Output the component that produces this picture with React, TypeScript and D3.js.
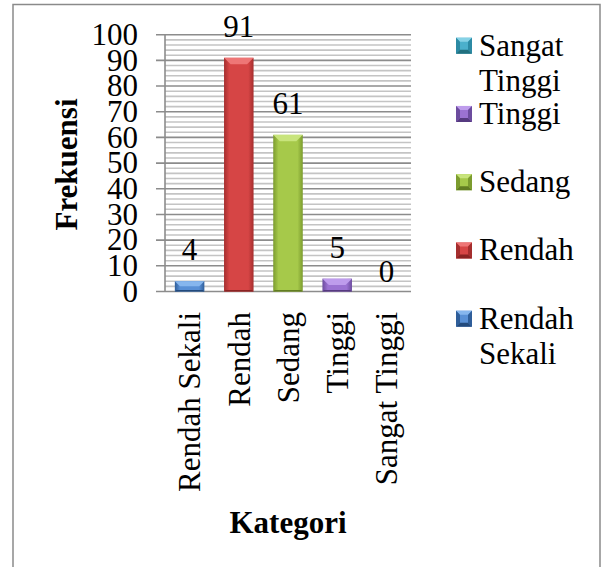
import React from "react";
import * as d3 from "d3";

const categories = ["Rendah Sekali", "Rendah", "Sedang", "Tinggi", "Sangat Tinggi"];
const values = [4, 91, 61, 5, 0];
const yTicks = [0, 10, 20, 30, 40, 50, 60, 70, 80, 90, 100];
const legendOrder = ["Sangat Tinggi", "Tinggi", "Sedang", "Rendah", "Rendah Sekali"];
const legendLines: Record<string, string[]> = {
  "Sangat Tinggi": ["Sangat", "Tinggi"],
  Tinggi: ["Tinggi"],
  Sedang: ["Sedang"],
  Rendah: ["Rendah"],
  "Rendah Sekali": ["Rendah", "Sekali"],
};
const palette: Record<string, { mid: string; edge: string; top: string; dark: string }> = {
  "Rendah Sekali": { mid: "#5990D6", edge: "#2F5E9A", top: "#86B6EE", dark: "#234A7C" },
  Rendah: { mid: "#D64545", edge: "#A52E2E", top: "#EE7676", dark: "#8A2323" },
  Sedang: { mid: "#A6C94A", edge: "#7C9C2F", top: "#C8E47C", dark: "#627D22" },
  Tinggi: { mid: "#9B72D2", edge: "#6C4C9E", top: "#BE9CEC", dark: "#563A80" },
  "Sangat Tinggi": { mid: "#4BB0CC", edge: "#2C8AA4", top: "#86D2E6", dark: "#21707F" },
};

const FONT = "Liberation Serif, DejaVu Serif, serif";
const FS = 31;

export default function App() {
  const x = d3.scaleBand<string>().domain(categories).range([165, 411]).paddingInner(0.4).paddingOuter(0.2);
  const y = d3.scaleLinear().domain([0, 100]).range([291.5, 34.7]);
  const minor = d3.range(0, 101, 2).filter((v) => v % 10 !== 0);
  const bw = x.bandwidth();
  const legendY = d3.scaleLinear().domain([0, 4]).range([45.7, 318.7]);
  const ts: React.CSSProperties = { fontFamily: FONT, fontWeight: 400 };
  const tb: React.CSSProperties = { fontFamily: FONT, fontWeight: 700 };

  return (
    <svg width={603} height={567} style={{ position: "absolute", left: 0, top: 0 }}>
      <defs>
        {categories.map((c, i) => (
          <linearGradient key={c} id={`g${i}`} x1="0" x2="1" y1="0" y2="0">
            <stop offset="0" stopColor={palette[c].edge} />
            <stop offset="0.18" stopColor={palette[c].mid} />
            <stop offset="0.82" stopColor={palette[c].mid} />
            <stop offset="1" stopColor={palette[c].edge} />
          </linearGradient>
        ))}
      </defs>
      <rect x={0} y={0} width={603} height={567} fill="#fff" />
      <rect x={13} y={4.5} width={587} height={600} fill="#fff" stroke="#8a8a8a" strokeWidth={1.5} />

      {minor.map((v) => (
        <line key={`m${v}`} x1={165} x2={411} y1={y(v)} y2={y(v)} stroke="#c4c4c4" strokeWidth={1.6} />
      ))}
      {yTicks.map((v) => (
        <line key={`M${v}`} x1={156} x2={411} y1={y(v)} y2={y(v)} stroke="#8c8c8c" strokeWidth={1.6} />
      ))}
      <line x1={165} x2={165} y1={y(100)} y2={y(0)} stroke="#8c8c8c" strokeWidth={1.6} />

      {yTicks.map((v) => (
        <text key={`t${v}`} x={138} y={y(v)} dy="0.33em" textAnchor="end" fontSize={FS} fill="#000" style={ts}>
          {v}
        </text>
      ))}

      {categories.map((c, i) => {
        const v = values[i];
        if (v <= 0) return null;
        const x0 = x(c)!;
        const y0 = y(v);
        const h = y(0) - y0;
        const b = Math.min(6.5, h / 2, bw / 2);
        const p = palette[c];
        return (
          <g key={c}>
            <rect x={x0} y={y0} width={bw} height={h} fill={`url(#g${i})`} />
            <polygon
              points={`${x0},${y0} ${x0 + bw},${y0} ${x0 + bw - b},${y0 + b} ${x0 + b},${y0 + b}`}
              fill={p.top}
            />
            <polygon
              points={`${x0},${y0 + h} ${x0 + bw},${y0 + h} ${x0 + bw - 1.5},${y0 + h - 1.5} ${x0 + 1.5},${y0 + h - 1.5}`}
              fill={p.dark}
            />
          </g>
        );
      })}

      {categories.map((c, i) => (
        <text
          key={`v${c}`}
          x={x(c)! + bw / 2}
          y={y(values[i]) - (values[i] === 0 ? 10 : 21)}
          textAnchor="middle"
          fontSize={FS}
          fill="#000"
          style={ts}
        >
          {values[i]}
        </text>
      ))}

      {categories.map((c) => {
        const cx = x(c)! + bw / 2;
        return (
          <text
            key={`c${c}`}
            transform={`translate(${cx},312) rotate(-90)`}
            dy="0.35em"
            textAnchor="end"
            fontSize={FS}
            fill="#000"
            style={ts}
          >
            {c}
          </text>
        );
      })}

      <text transform="translate(66,164.5) rotate(-90)" dy="0.35em" textAnchor="middle" fontSize={FS} style={tb}>
        Frekuensi
      </text>
      <text x={288} y={533} textAnchor="middle" fontSize={FS} style={tb}>
        Kategori
      </text>

      {legendOrder.map((c, i) => {
        const cy = legendY(i);
        const p = palette[c];
        const s = 16;
        const lx = 456;
        const ly = cy - s / 2;
        const b = 4;
        return (
          <g key={`l${c}`}>
            <rect x={lx} y={ly} width={s} height={s} fill={p.mid} />
            <polygon points={`${lx},${ly} ${lx + s},${ly} ${lx + s - b},${ly + b} ${lx + b},${ly + b}`} fill={p.top} />
            <polygon points={`${lx},${ly} ${lx + b},${ly + b} ${lx + b},${ly + s - b} ${lx},${ly + s}`} fill={p.edge} />
            <polygon
              points={`${lx + s},${ly} ${lx + s},${ly + s} ${lx + s - b},${ly + s - b} ${lx + s - b},${ly + b}`}
              fill={p.edge}
            />
            <polygon
              points={`${lx},${ly + s} ${lx + s},${ly + s} ${lx + s - b},${ly + s - b} ${lx + b},${ly + s - b}`}
              fill={p.dark}
            />
            {legendLines[c].map((t, j) => (
              <text key={t + j} x={479} y={cy + 10 + j * 35} fontSize={FS} fill="#000" style={ts}>
                {t}
              </text>
            ))}
          </g>
        );
      })}
    </svg>
  );
}
